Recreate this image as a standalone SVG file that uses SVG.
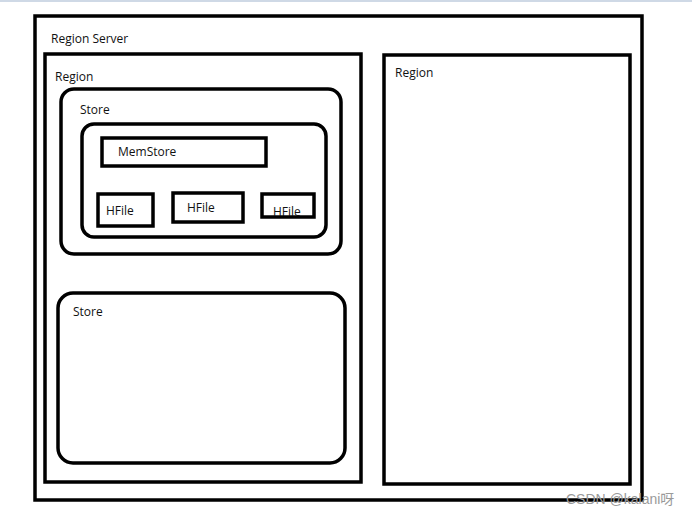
<svg xmlns="http://www.w3.org/2000/svg" width="692" height="516" viewBox="0 0 692 516">
<style>
.box{fill:none;stroke:#000;stroke-width:3.5}
.t{font-family:"Open Sans","Noto Sans","Liberation Sans",sans-serif;font-size:12px;fill:#111}
.wm{font-family:"Liberation Sans","Noto Sans CJK SC",sans-serif;font-size:14px;fill:#9a9a9a}
</style>
<rect x="0" y="0" width="692" height="516" fill="#fff"/>
<rect x="0" y="0" width="692" height="2" fill="#cfd9e6"/>
<g id="region-server">
<rect class="box" x="35" y="16" width="607" height="484"/>
<text class="t" x="51" y="43">Region Server</text>
</g>
<g id="region-left">
<rect class="box" x="45" y="54" width="316" height="428"/>
<text class="t" x="55" y="81">Region</text>
</g>
<g id="store-1">
<rect class="box" x="61" y="89" width="280" height="165" rx="13"/>
<text class="t" x="80" y="114">Store</text>
</g>
<g id="store-1-inner">
<rect class="box" x="82" y="124" width="244" height="113" rx="12"/>
</g>
<g id="memstore">
<rect class="box" x="102" y="138" width="164" height="28"/>
<text class="t" x="118" y="156">MemStore</text>
</g>
<g id="hfile-1">
<rect class="box" x="98" y="194" width="55" height="32"/>
<text class="t" x="106" y="215">HFile</text>
</g>
<g id="hfile-2">
<rect class="box" x="173" y="193" width="70" height="29"/>
<text class="t" x="187" y="212">HFile</text>
</g>
<g id="hfile-3">
<rect class="box" x="262" y="194" width="52" height="23"/>
<text class="t" x="273" y="216">HFile</text>
</g>
<g id="store-2">
<rect class="box" x="58" y="293" width="287" height="170" rx="15"/>
<text class="t" x="73" y="316">Store</text>
</g>
<g id="region-right">
<rect class="box" x="384" y="55" width="246" height="429"/>
<text class="t" x="395" y="77">Region</text>
</g>
<g id="connectors"></g>
<text class="wm" x="566" y="504">CSDN @kalani呀</text>
</svg>
